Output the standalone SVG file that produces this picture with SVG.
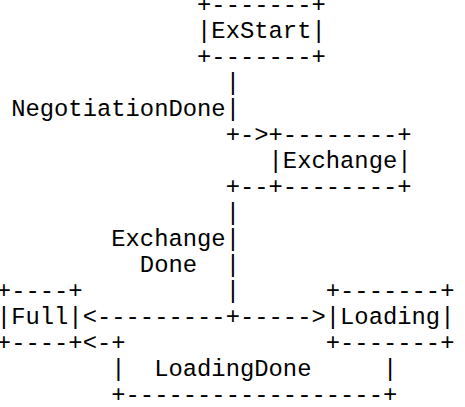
<svg xmlns="http://www.w3.org/2000/svg" width="465" height="407" viewBox="0 0 465 407">
<style>
text{font-family:"Liberation Mono","DejaVu Sans Mono",monospace;font-size:23.83px;fill:#000;white-space:pre}
</style>
<rect width="465" height="407" fill="#fff"/>
<g id="node-exstart">
<text x="197.05" y="12">+-------+</text>
<text x="197.05" y="38">|ExStart|</text>
<text x="197.05" y="64">+-------+</text>
</g>
<g id="node-exchange">
<text x="268.55" y="142">+--------+</text>
<text x="268.55" y="168">|Exchange|</text>
<text x="268.55" y="194">+--------+</text>
</g>
<g id="node-full">
<text x="-3.15" y="298">+----+</text>
<text x="-3.15" y="324">|Full|</text>
<text x="-3.15" y="350">+----+</text>
</g>
<g id="node-loading">
<text x="325.75" y="298">+-------+</text>
<text x="325.75" y="324">|Loading|</text>
<text x="325.75" y="350">+-------+</text>
</g>
<g id="connectors">
<text x="225.65" y="90">|</text>
<text x="11.15" y="116">NegotiationDone</text>
<text x="225.65" y="116">|</text>
<text x="225.65" y="142">+-&gt;</text>
<text x="225.65" y="194">+--</text>
<text x="225.65" y="220">|</text>
<text x="111.25" y="246">Exchange</text>
<text x="225.65" y="246">|</text>
<text x="139.85" y="272">Done</text>
<text x="225.65" y="272">|</text>
<text x="225.65" y="298">|</text>
<text x="82.65" y="324">&lt;---------+-----&gt;</text>
<text x="82.65" y="350">&lt;-+</text>
<text x="111.25" y="376">|</text>
<text x="154.15" y="376">LoadingDone</text>
<text x="382.95" y="376">|</text>
<text x="111.25" y="402">+------------------+</text>
</g>
</svg>
